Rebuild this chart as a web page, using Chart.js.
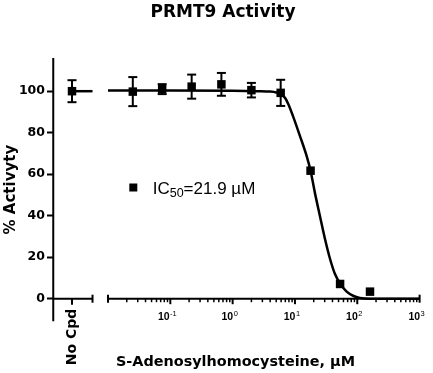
<!DOCTYPE html>
<html><head><meta charset="utf-8">
<script src="https://cdn.jsdelivr.net/npm/chart.js@4/dist/chart.umd.min.js"></script>
<style>html,body{margin:0;padding:0;background:#fff}canvas{display:block}</style>
</head><body>
<canvas id="c" width="433" height="373"></canvas>
<script>
// ---- text ----
const chartTitle = 'PRMT9 Activity';
const yAxisTitle = '% Activyty';
const xAxisTitle = 'S-Adenosylhomocysteine, µM';
const noCpdLabel = 'No Cpd';
const legendMain = 'IC', legendSub = '50', legendRest = '=21.9 µM';

// ---- data ----
const noCpdValue = 100;
const noCpdError = 5.3;
const concentrations = [0.025, 0.074, 0.22, 0.66, 2.0, 5.9, 17.8, 53, 160];
const activity = [99.8, 101, 102.2, 103.3, 100.5, 99.2, 61.7, 7.1, 3.4];
const activityError = [7, 2.4, 5.8, 5.5, 3.5, 6.3, 0, 0, 0];
const fitConcentrations = [0.01, 0.1, 1, 2.5, 4.0, 5.0, 6.0, 7.0, 7.9, 9.3, 12, 15.5, 17.8, 20.9, 25.1, 30.2, 36.3, 43.7, 53.7, 67.6, 87.1, 110, 158, 1000];
const fitActivity = [100.3, 100.3, 100.2, 100.0, 99.8, 99.4, 98.6, 96.6, 93.5, 88, 78.5, 68.5, 61.7, 51, 40, 29, 19.5, 12, 7, 3.4, 1.3, 0.4, 0, 0];

// ---- ticks ----
const yTicks = [0, 20, 40, 60, 80, 100];
const xDecades = [0.01, 0.1, 1, 10, 100, 1000];
const xTickBase = '10';
const xTickExponents = ['', '-1', '0', '1', '2', '3'];

// ---- layout constants ----
const BOLD = '"DejaVu Sans", sans-serif';
const ARIAL = '"Liberation Sans", Arial, sans-serif';
const noCpdX = 1, segmentEnd = 2.14;

function ln(ctx, x1, y1, x2, y2) { ctx.beginPath(); ctx.moveTo(x1, y1); ctx.lineTo(x2, y2); ctx.stroke(); }

const prismPlugin = {
  id: 'prism',
  beforeDatasetsDraw(chart) {
    const ctx = chart.ctx, ca = chart.chartArea;
    const ys = chart.scales.y, xc = chart.scales.xc, xl = chart.scales.x;
    const y0 = ys.getPixelForValue(0);
    ctx.save();
    ctx.strokeStyle = '#000'; ctx.fillStyle = '#000'; ctx.lineWidth = 2; ctx.lineCap = 'butt';
    const ax = ca.left - 0.75;
    ln(ctx, ax, ca.top, ax, y0 + 22.5);
    const s1 = xc.getPixelForValue(segmentEnd);
    ln(ctx, ax, y0, s1, y0);
    ln(ctx, s1, y0 - 4, s1, y0 + 4);
    const nc = xc.getPixelForValue(noCpdX);
    ln(ctx, nc, y0, nc, y0 + 6);
    const l = xl.getPixelForValue(xDecades[0]);
    const r = xl.getPixelForValue(xDecades[xDecades.length - 1]);
    ln(ctx, l, y0, r, y0);
    ln(ctx, l, y0 - 4, l, y0 + 4);
    ln(ctx, r, y0 - 4, r, y0 + 4);
    ctx.lineWidth = 1.5;
    for (let i = 0; i < xDecades.length - 1; i++) {
      for (let k = 2; k <= 9; k++) {
        const px = xl.getPixelForValue(xDecades[i] * k);
        ln(ctx, px, y0, px, y0 + 3.5);
      }
    }
    ctx.lineWidth = 2;
    for (let i = 1; i < xDecades.length - 1; i++) {
      const px = xl.getPixelForValue(xDecades[i]);
      ln(ctx, px, y0, px, y0 + 5.5);
    }
    ctx.textBaseline = 'alphabetic'; ctx.textAlign = 'left';
    for (let i = 0; i < xDecades.length; i++) {
      const ex = xTickExponents[i];
      if (!ex) continue;
      const px = xl.getPixelForValue(xDecades[i]);
      ctx.font = 'bold 10.5px ' + ARIAL;
      const w1 = ctx.measureText(xTickBase).width;
      ctx.font = '7.5px ' + ARIAL;
      const w2 = ctx.measureText(ex).width;
      const start = px - 3 - (w1 + w2 + 0.5) / 2;
      ctx.font = 'bold 10.5px ' + ARIAL;
      ctx.fillText(xTickBase, start, y0 + 20.8);
      ctx.font = '7.5px ' + ARIAL;
      ctx.fillText(ex, start + w1 + 0.5, y0 + 17);
    }
    ctx.lineWidth = 2;
    const bar = (px, v, e) => {
      if (!e) return;
      const t = ys.getPixelForValue(v + e), b = ys.getPixelForValue(v - e);
      ln(ctx, px, t, px, b);
      ln(ctx, px - 4.5, t, px + 4.5, t);
      ln(ctx, px - 4.5, b, px + 4.5, b);
    };
    bar(nc, noCpdValue, noCpdError);
    concentrations.forEach((c, i) => bar(xl.getPixelForValue(c), activity[i], activityError[i]));
    ctx.restore();
  },
  afterDraw(chart) {
    const ctx = chart.ctx, ca = chart.chartArea;
    const ys = chart.scales.y;
    const y0 = ys.getPixelForValue(0);
    ctx.save();
    ctx.fillStyle = '#000';
    ctx.textBaseline = 'alphabetic';
    ctx.font = 'bold 17px ' + BOLD;
    ctx.textAlign = 'center';
    ctx.fillText(chartTitle, 223, 16.7);
    ctx.font = 'bold 14.4px ' + BOLD;
    ctx.fillText(xAxisTitle, 235.5, 366);
    ctx.save();
    ctx.translate(14.5, (ca.top + y0 + 22.5) / 2);
    ctx.rotate(-Math.PI / 2);
    ctx.font = 'bold 15px ' + BOLD;
    ctx.fillText(yAxisTitle, 0, 0);
    ctx.restore();
    const lx = ca.left + 79.3, ly = 187.5;
    ctx.fillRect(lx - 4, ly - 4, 8, 8);
    ctx.textAlign = 'left';
    let tx = ca.left + 98.7;
    ctx.font = '17px ' + ARIAL;
    ctx.fillText(legendMain, tx, ly + 6.8);
    tx += ctx.measureText(legendMain).width;
    ctx.font = '12.5px ' + ARIAL;
    ctx.fillText(legendSub, tx, ly + 9.8);
    tx += ctx.measureText(legendSub).width;
    ctx.font = '17px ' + ARIAL;
    ctx.fillText(legendRest, tx, ly + 6.8);
    ctx.restore();
  }
};

new Chart(document.getElementById('c'), {
  type: 'scatter',
  data: {
    datasets: [
      { label: noCpdLabel, xAxisID: 'xc', yAxisID: 'y', data: [{ x: noCpdX, y: noCpdValue }],
        pointStyle: 'rect', pointRadius: 6, backgroundColor: '#000', borderWidth: 0, clip: false },
      { label: 'SAH', xAxisID: 'x', yAxisID: 'y',
        data: concentrations.map((c, i) => ({ x: c, y: activity[i] })),
        pointStyle: 'rect', pointRadius: 6, backgroundColor: '#000', borderWidth: 0, clip: false },
      { label: 'Fit', xAxisID: 'x', yAxisID: 'y',
        data: fitConcentrations.map((c, i) => ({ x: c, y: fitActivity[i] })),
        showLine: true, pointRadius: 0, borderColor: '#000', borderWidth: 2.5,
        cubicInterpolationMode: 'monotone', clip: false },
      { label: 'No Cpd line', xAxisID: 'xc', yAxisID: 'y',
        data: [{ x: noCpdX, y: noCpdValue }, { x: segmentEnd, y: noCpdValue }],
        showLine: true, pointRadius: 0, borderColor: '#000', borderWidth: 2.5, clip: false }
    ]
  },
  options: {
    responsive: false,
    animation: false,
    devicePixelRatio: 1,
    events: [],
    layout: { padding: { left: 0, right: 13.4, top: 58, bottom: 0 } },
    plugins: { legend: { display: false }, tooltip: { enabled: false }, title: { display: false } },
    scales: {
      y: {
        type: 'linear', position: 'left', min: 0, max: 116,
        afterBuildTicks: s => { s.ticks = yTicks.map(v => ({ value: v })); },
        afterFit: s => { s.width = 54; },
        ticks: { color: '#000', padding: 2, font: { family: BOLD, size: 12.5, weight: 'bold' } },
        grid: { display: true, drawOnChartArea: false, drawTicks: true, tickLength: 7, tickWidth: 2, tickColor: '#000', color: '#000' },
        border: { display: false }
      },
      xc: {
        type: 'linear', position: 'bottom', stack: 'xs', stackWeight: 54, weight: 0,
        min: 0, max: 3,
        afterBuildTicks: s => { s.ticks = [{ value: noCpdX }]; },
        afterFit: s => { s.height = 74.3; },
        ticks: { color: '#000', autoSkip: false, minRotation: 90, maxRotation: 90, padding: 2,
                 font: { family: BOLD, size: 14, weight: 'bold' }, callback: () => noCpdLabel },
        grid: { display: false },
        border: { display: false }
      },
      x: {
        type: 'logarithmic', position: 'bottom', stack: 'xs', stackWeight: 311.6, weight: 1,
        min: xDecades[0], max: xDecades[xDecades.length - 1],
        afterFit: s => { s.height = 74.3; },
        ticks: { display: false },
        grid: { display: false },
        border: { display: false }
      }
    }
  },
  plugins: [prismPlugin]
});
</script>
</body></html>
